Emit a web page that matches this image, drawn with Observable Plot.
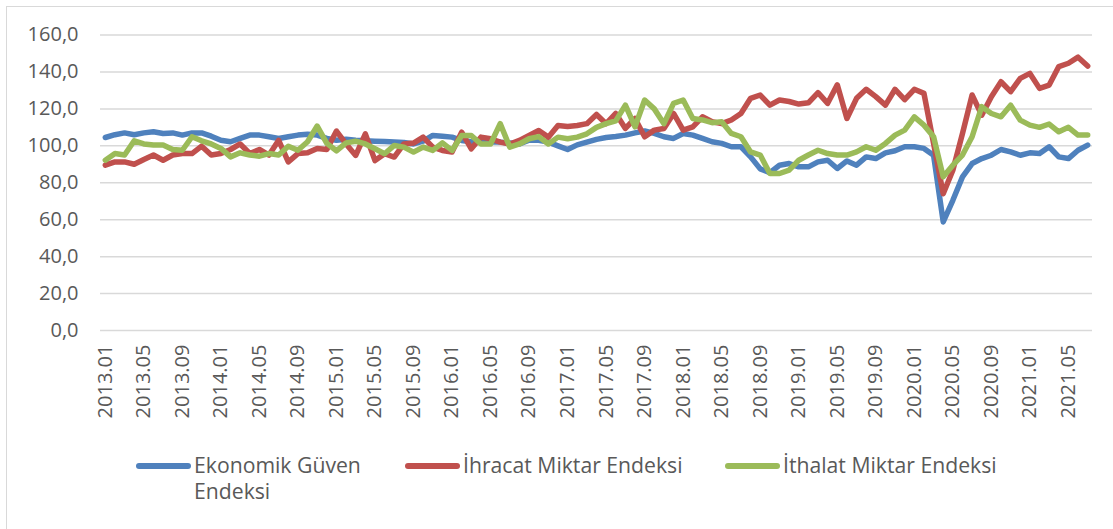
<!DOCTYPE html>
<html>
<head>
<meta charset="utf-8">
<script src="https://cdn.jsdelivr.net/npm/d3@7"></script>
<script src="https://cdn.jsdelivr.net/npm/@observablehq/plot@0.6"></script>
<style>
  html, body { margin: 0; padding: 0; background: #ffffff; }
  body { width: 1113px; height: 529px; position: relative; overflow: hidden; font-family: "Open Sans", sans-serif; }
  #frame { position: absolute; left: 6px; top: 6px; width: 1200px; height: 600px; border-top: 1.5px solid #d9d9d9; border-left: 1.5px solid #d9d9d9; }
  #chart { position: absolute; left: 0; top: 0; }
  .leg { position: absolute; top: 452px; display: flex; align-items: flex-start; font-size: 21.2px; color: #595959; line-height: 26px; }
  .sw { width: 55px; height: 6px; border-radius: 3px; margin-top: 11px; margin-right: 3px; flex: none; }
</style>
</head>
<body>
<div id="frame"></div>
<div id="chart"></div>
<div id="legend"></div>
<script>
const months = [
  "2013.01","2013.02","2013.03","2013.04","2013.05","2013.06","2013.07","2013.08","2013.09","2013.10","2013.11","2013.12",
  "2014.01","2014.02","2014.03","2014.04","2014.05","2014.06","2014.07","2014.08","2014.09","2014.10","2014.11","2014.12",
  "2015.01","2015.02","2015.03","2015.04","2015.05","2015.06","2015.07","2015.08","2015.09","2015.10","2015.11","2015.12",
  "2016.01","2016.02","2016.03","2016.04","2016.05","2016.06","2016.07","2016.08","2016.09","2016.10","2016.11","2016.12",
  "2017.01","2017.02","2017.03","2017.04","2017.05","2017.06","2017.07","2017.08","2017.09","2017.10","2017.11","2017.12",
  "2018.01","2018.02","2018.03","2018.04","2018.05","2018.06","2018.07","2018.08","2018.09","2018.10","2018.11","2018.12",
  "2019.01","2019.02","2019.03","2019.04","2019.05","2019.06","2019.07","2019.08","2019.09","2019.10","2019.11","2019.12",
  "2020.01","2020.02","2020.03","2020.04","2020.05","2020.06","2020.07","2020.08","2020.09","2020.10","2020.11","2020.12",
  "2021.01","2021.02","2021.03","2021.04","2021.05","2021.06","2021.07"
];
const tickMonths = [
  "2013.01","2013.05","2013.09","2014.01","2014.05","2014.09","2015.01","2015.05","2015.09",
  "2016.01","2016.05","2016.09","2017.01","2017.05","2017.09","2018.01","2018.05","2018.09",
  "2019.01","2019.05","2019.09","2020.01","2020.05","2020.09","2021.01","2021.05"
];
const yTicks = [0, 20, 40, 60, 80, 100, 120, 140, 160];
const seriesNames = ["Ekonomik Güven Endeksi", "İhracat Miktar Endeksi", "İthalat Miktar Endeksi"];
const seriesColors = ["#4F81BD", "#C0504D", "#9BBB59"];

const ekonomikGuven = [
  104.5,106,107,106,107,107.6,106.7,107,105.8,107,107,105.2,
  103,102.2,104,105.8,105.8,104.9,104,104.9,105.8,106.3,105.8,104,
  103,103.5,103,102.7,102.5,102.3,102,101.8,101,102.5,105.6,105.2,
  104.7,102.9,102.2,102,102,102,101.5,101,103,103,102,100,
  98,100.5,102,103.5,104.5,105,105.8,107,108,106.7,104.9,104,
  106.7,105.8,104,102.2,101.3,99.5,99.5,94,87.5,85.5,89.5,90.4,
  88.6,88.6,91.3,92.2,87.7,91.8,89.5,94,93.1,96.2,97.3,99.5,
  99.5,98.6,94.9,58.8,70.5,83.2,90.4,93.1,94.9,98,96.7,94.9,
  96.2,95.8,99.5,94,93.1,97.6,100.4
];
const ihracatMiktar = [
  89.5,91.3,91.3,90,92.6,95,92.2,95,95.8,95.8,99.8,95,
  95.8,98,101,95.8,98,95,103,91.3,95.8,96.2,98.6,98,
  108,101,94.8,106.5,92,95.7,93.9,101,101.5,104.7,99.3,97.5,
  96.6,107.4,98.4,104.7,103.8,102,101,102.9,105.6,108.3,104.7,111,
  110.5,111,112,117,112,117.5,109.4,114.8,104.9,108.5,109.4,117.5,
  108.5,110.3,115.7,113,112,114,117.5,125.7,127.5,122,124.8,124,
  122.6,123.3,128.8,123,133,114.8,125.7,130.6,126.6,122,130.6,125,
  130.6,128.4,101.3,74,86.8,106.7,127.5,116.6,126.6,134.7,129.3,136.5,
  139.2,131.1,132.9,142.9,144.7,148,143.2
];
const ithalatMiktar = [
  92.2,95.8,95,102.7,101,100.4,100.4,98,97.6,104.9,102.7,101,
  98.6,94,96.2,95,94.4,95.8,95,99.8,97.6,102.2,110.7,101.3,
  97.3,101.6,102.5,101,98.4,95.7,100.2,99.3,96.6,99.3,97.5,101.6,
  97.5,105.6,105.6,101,101,112,99.3,101,103.8,105,101,104.7,
  103.8,104.7,106.5,110,112,113.5,122,110.3,124.8,120,112,123,
  124.8,114.8,114,112.5,113,106.7,104.9,96.7,95,85,85,86.8,
  92.2,95,97.6,95.8,95,95,96.7,99.5,97.6,101.3,105.8,108.5,
  115.7,111.2,104.9,83.2,89.5,95,104.9,121.2,117.5,115.7,122,113.9,
  111.2,110,111.8,107.6,110,105.8,105.8
];

const allSeries = [ekonomikGuven, ihracatMiktar, ithalatMiktar];
const rows = [];
allSeries.forEach((vals, s) => {
  vals.forEach((v, i) => rows.push({month: months[i], value: v, series: seriesNames[s]}));
});

const fmt = d => d.toFixed(1).replace(".", ",");

const chart = Plot.plot({
  width: 1113,
  height: 430,
  marginLeft: 100,
  marginRight: 21,
  marginTop: 34.5,
  marginBottom: 100,
  style: {fontFamily: "Open Sans", fontSize: "20px", color: "#595959", background: "transparent", overflow: "visible"},
  x: {type: "point", domain: months, padding: 0.5},
  y: {domain: [0, 160]},
  color: {domain: seriesNames, range: seriesColors},
  marks: [
    Plot.gridY(yTicks, {stroke: "#d9d9d9", strokeOpacity: 1, strokeWidth: 1.5}),
    Plot.axisY(yTicks, {tickSize: 0, tickPadding: 22, tickFormat: fmt, label: null, fontSize: 20}),
    Plot.axisX(tickMonths, {tickSize: 0, tickRotate: -90, tickPadding: 14, label: null, fontSize: 20}),
    Plot.line(rows, {x: "month", y: "value", z: "series", stroke: "series", strokeWidth: 5.5,
      strokeLinejoin: "round", strokeLinecap: "round"})
  ]
});
document.getElementById("chart").appendChild(chart);

const legend = document.getElementById("legend");
const legLefts = [136, 405, 725];
seriesNames.forEach((name, i) => {
  const item = document.createElement("div");
  item.className = "leg";
  item.style.left = legLefts[i] + "px";
  const sw = document.createElement("div");
  sw.className = "sw";
  sw.style.background = seriesColors[i];
  const tx = document.createElement("div");
  tx.textContent = name;
  if (i === 0) tx.style.width = "185px";
  item.appendChild(sw);
  item.appendChild(tx);
  legend.appendChild(item);
});
</script>
</body>
</html>
